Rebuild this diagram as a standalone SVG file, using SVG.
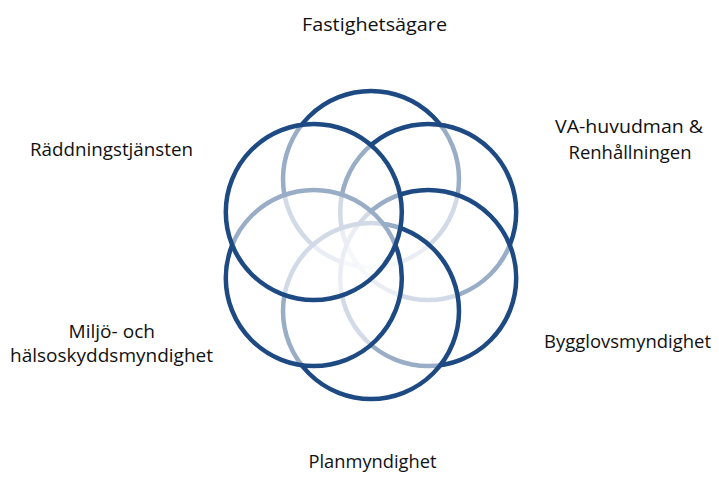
<svg xmlns="http://www.w3.org/2000/svg" width="719" height="479" viewBox="0 0 719 479">
<style>
.c{fill:#ffffff;fill-opacity:0.55;stroke:#1d4a83;stroke-width:4.5}
.t{font-family:"Open Sans","Noto Sans","Liberation Sans",sans-serif;font-size:19px;fill:#111111}
</style>
<rect width="719" height="479" fill="#ffffff"/>
<g id="circles">
<g id="c-top"><circle class="c" cx="371" cy="179" r="88"/></g>
<g id="c-upper-right"><circle class="c" cx="428.2" cy="212" r="88"/></g>
<g id="c-lower-right"><circle class="c" cx="428.2" cy="278" r="88"/></g>
<g id="c-bottom"><circle class="c" cx="371" cy="311" r="88"/></g>
<g id="c-lower-left"><circle class="c" cx="313.8" cy="278" r="88"/></g>
<g id="c-upper-left"><circle class="c" cx="313.8" cy="212" r="88"/></g>
</g>
<g id="connectors"></g>
<g id="n-fastighetsagare"><text class="t" x="302" y="31" textLength="145" lengthAdjust="spacingAndGlyphs">Fastighetsägare</text></g>
<g id="n-va"><text class="t" x="555" y="133" textLength="148" lengthAdjust="spacingAndGlyphs">VA-huvudman &amp;</text><text class="t" x="568.5" y="159" textLength="123" lengthAdjust="spacingAndGlyphs">Renhållningen</text></g>
<g id="n-raddning"><text class="t" x="30" y="156" textLength="163" lengthAdjust="spacingAndGlyphs">Räddningstjänsten</text></g>
<g id="n-miljo"><text class="t" x="68.5" y="338" textLength="86.5" lengthAdjust="spacingAndGlyphs">Miljö- och</text><text class="t" x="10" y="362" textLength="203" lengthAdjust="spacingAndGlyphs">hälsoskyddsmyndighet</text></g>
<g id="n-bygglov"><text class="t" x="544" y="348" textLength="167" lengthAdjust="spacingAndGlyphs">Bygglovsmyndighet</text></g>
<g id="n-plan"><text class="t" x="308.5" y="468" textLength="128" lengthAdjust="spacingAndGlyphs">Planmyndighet</text></g>
</svg>
